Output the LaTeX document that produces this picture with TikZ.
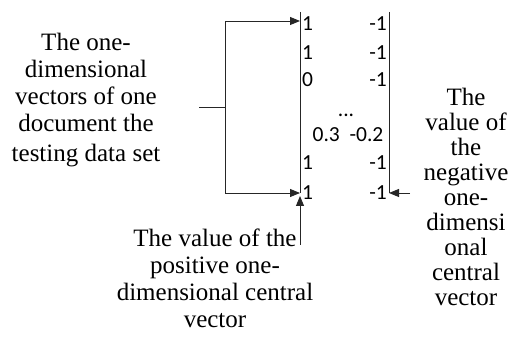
\documentclass[tikz,border=0pt]{standalone}
\usepackage{fontspec}
\setmainfont{Liberation Serif}
\newfontfamily\numfont{Carlito}
\usetikzlibrary{arrows.meta}
\tikzset{
  lbl/.style={align=center, inner sep=0pt, font=\fontsize{25}{27}\selectfont},
  num/.style={inner sep=0pt, font=\numfont\fontsize{21.5}{24}\selectfont},
  ln/.style={line width=0.9pt, draw=black!85},
  arr/.style={ln, -{Triangle[length=10pt,width=8pt]}},
}
\begin{document}
\begin{tikzpicture}[x=1pt,y=-1pt]
\useasboundingbox (0,0) rectangle (511,344);
% labels
\node[lbl] (left) at (86,100) {The one-\\dimensional\\vectors of one\\document the\\[3pt]testing data set};
\node[lbl] (bottom) at (215,278) {The value of the\\positive one-\\dimensional central\\vector};
\node[lbl, font=\fontsize{25}{25}\selectfont] (right) at (466,197) {The\\value of\\the\\negative\\one-\\dimensi\\onal\\central\\vector};
% bars
\coordinate (lt) at (300,12);
\coordinate (lb) at (300,193);
\coordinate (rt) at (389,12);
\coordinate (rb) at (389,193);
\draw[ln] (lt) -- (lb);
\draw[ln] (rt) -- (rb);
% numbers
\node[num, anchor=base west] (a1) at (302,31) {1};
\node[num, anchor=base west] (a2) at (302,60) {1};
\node[num, anchor=base west] (a3) at (302,87) {0};
\node[num, anchor=base] (dots) at (346,117) {...};
\node[num, anchor=base] (mid) at (348,142) {0.3\ \ -0.2};
\node[num, anchor=base west] (a6) at (302,170) {1};
\node[num, anchor=base west] (a7) at (302,200) {1};
\node[num, anchor=base east] (b1) at (387,31) {-1};
\node[num, anchor=base east] (b2) at (387,60) {-1};
\node[num, anchor=base east] (b3) at (387,87) {-1};
\node[num, anchor=base east] (b6) at (387,170) {-1};
\node[num, anchor=base east] (b7) at (387,200) {-1};
% connectors
\coordinate (in) at (199,107);
\coordinate (j) at (225,107);
\coordinate (t1) at (300,21);
\coordinate (t2) at (300,193);
\draw[ln] (in) -- (j);
\draw[arr] (j) |- (t1);
\draw[arr] (j) |- (t2);
\coordinate (pu) at (300,245);
\coordinate (pt) at (300,196);
\draw[arr] (pu) -- (pt);
\coordinate (pr) at (410,193);
\coordinate (pe) at (389,193);
\draw[arr] (pr) -- (pe);
\end{tikzpicture}
\end{document}
